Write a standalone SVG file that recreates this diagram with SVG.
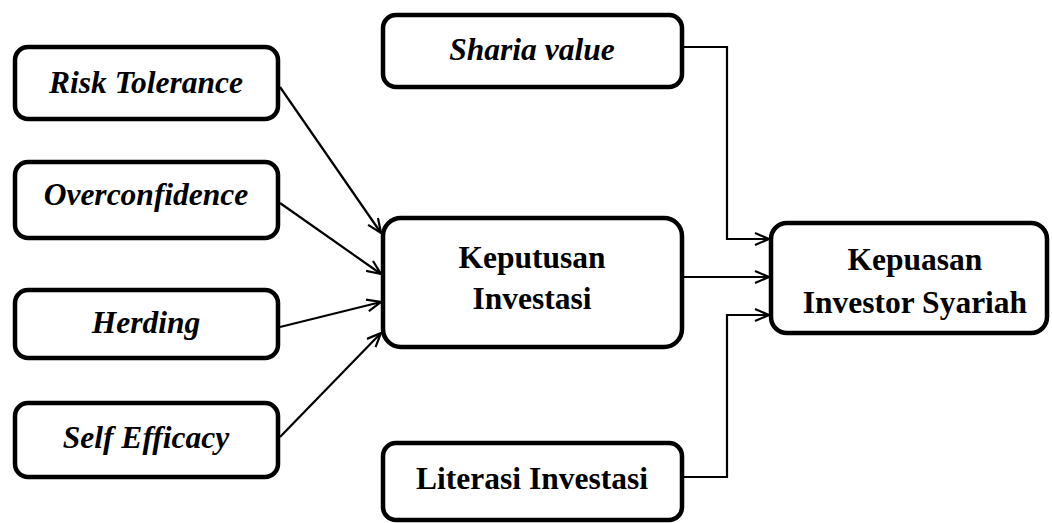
<svg xmlns="http://www.w3.org/2000/svg" width="1052" height="523" viewBox="0 0 1052 523">
<style>
.box{fill:#fff;stroke:#000;stroke-width:4.5}
.t{font-family:"Liberation Serif","Times New Roman",serif;font-weight:bold;font-size:31.5px;fill:#000;text-anchor:middle}
.i{font-style:italic}
.c{fill:none;stroke:#000;stroke-width:2.2}
</style>
<defs>
<marker id="ah" viewBox="0 0 16 14" refX="15" refY="7" markerWidth="16" markerHeight="14" markerUnits="userSpaceOnUse" orient="auto">
<path d="M1,1 L15,7 L1,13" fill="none" stroke="#000" stroke-width="2.2"/>
</marker>
</defs>
<g id="connectors">
<line class="c" x1="280" y1="87" x2="381" y2="233" marker-end="url(#ah)"/>
<line class="c" x1="280" y1="203" x2="381" y2="274" marker-end="url(#ah)"/>
<line class="c" x1="280" y1="327" x2="381" y2="302" marker-end="url(#ah)"/>
<line class="c" x1="280" y1="437" x2="381" y2="333" marker-end="url(#ah)"/>
<polyline class="c" points="684,47 727,47 727,239 769,239" marker-end="url(#ah)"/>
<line class="c" x1="684" y1="277" x2="769" y2="277" marker-end="url(#ah)"/>
<polyline class="c" points="684,477 727,477 727,315 769,315" marker-end="url(#ah)"/>
</g>
<g id="risk"><rect class="box" x="15" y="47" width="263" height="72" rx="13"/><text class="t i" x="146" y="93">Risk Tolerance</text></g>
<g id="overconfidence"><rect class="box" x="15" y="162" width="263" height="76" rx="13"/><text class="t i" x="146" y="205">Overconfidence</text></g>
<g id="herding"><rect class="box" x="15" y="290" width="263" height="68" rx="13"/><text class="t i" x="146" y="333">Herding</text></g>
<g id="selfefficacy"><rect class="box" x="15" y="403" width="263" height="74" rx="13"/><text class="t i" x="146" y="448">Self Efficacy</text></g>
<g id="sharia"><rect class="box" x="383" y="15" width="299" height="72" rx="13"/><text class="t i" x="532" y="60">Sharia value</text></g>
<g id="keputusan"><rect class="box" x="383" y="218" width="299" height="129" rx="18"/><text class="t" x="532" y="268">Keputusan</text><text class="t" x="532" y="309">Investasi</text></g>
<g id="kepuasan"><rect class="box" x="771" y="223" width="276" height="110" rx="16"/><text class="t" x="915" y="270">Kepuasan</text><text class="t" x="915" y="313">Investor Syariah</text></g>
<g id="literasi"><rect class="box" x="383" y="443" width="299" height="77" rx="13"/><text class="t" x="532" y="489">Literasi Investasi</text></g>
</svg>
